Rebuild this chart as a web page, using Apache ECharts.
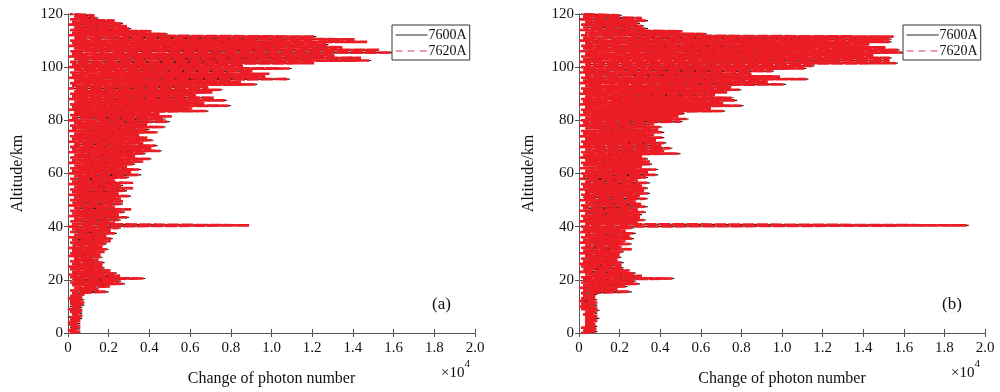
<!DOCTYPE html>
<html><head><meta charset="utf-8">
<script src="https://cdn.jsdelivr.net/npm/echarts@6/dist/echarts.min.js"></script>
<style>html,body{margin:0;padding:0;background:#fff;}#c{width:1000px;height:392px;}</style>
</head><body><div id="c"></div>
<script>
// Altitude grid (km), shared by both panels
const altitude = [
0,0.5,1,1.5,2,2.5,3,3.5,4,4.5,5,5.5,6,6.5,7,7.5,8,8.5,9,9.5,
10,10.5,11,11.5,12,12.5,13,13.5,14,14.5,15,15.5,16,16.5,17,17.5,18,18.5,19,19.5,
20,20.5,21,21.5,22,22.5,23,23.5,24,24.5,25,25.5,26,26.5,27,27.5,28,28.5,29,29.5,
30,30.5,31,31.5,32,32.5,33,33.5,34,34.5,35,35.5,36,36.5,37,37.5,38,38.5,39,39.5,
40,40.5,41,41.5,42,42.5,43,43.5,44,44.5,45,45.5,46,46.5,47,47.5,48,48.5,49,49.5,
50,50.5,51,51.5,52,52.5,53,53.5,54,54.5,55,55.5,56,56.5,57,57.5,58,58.5,59,59.5,
60,60.5,61,61.5,62,62.5,63,63.5,64,64.5,65,65.5,66,66.5,67,67.5,68,68.5,69,69.5,
70,70.5,71,71.5,72,72.5,73,73.5,74,74.5,75,75.5,76,76.5,77,77.5,78,78.5,79,79.5,
80,80.5,81,81.5,82,82.5,83,83.5,84,84.5,85,85.5,86,86.5,87,87.5,88,88.5,89,89.5,
90,90.5,91,91.5,92,92.5,93,93.5,94,94.5,95,95.5,96,96.5,97,97.5,98,98.5,99,99.5,
100,100.5,101,101.5,102,102.5,103,103.5,104,104.5,105,105.5,106,106.5,107,107.5,108,108.5,109,109.5,
110,110.5,111,111.5,112,112.5,113,113.5,114,114.5,115,115.5,116,116.5,117,117.5,118,118.5,119,119.5,
120];

// Change of photon number (x 10^4), panel (a)
const a7600 = [
0.01,0.05,0.00,0.06,0.01,0.05,0.00,0.06,0.01,0.05,
0.01,0.07,0.00,0.06,0.02,0.07,0.01,0.06,0.00,0.07,
0.01,0.08,0.02,0.07,0.01,0.08,0.00,0.06,0.01,0.08,
0.02,0.20,0.01,0.14,0.03,0.20,0.02,0.28,0.01,0.26,
0.02,0.38,0.01,0.25,0.00,0.24,0.02,0.20,0.01,0.18,
0.00,0.16,0.02,0.18,0.01,0.14,0.03,0.17,0.00,0.15,
0.01,0.17,0.02,0.20,0.00,0.16,0.02,0.19,0.01,0.20,
0.02,0.22,0.00,0.18,0.03,0.24,0.01,0.20,0.02,0.26,
0.00,0.88,0.02,0.22,0.01,0.26,0.03,0.30,0.00,0.24,
0.02,0.28,0.01,0.30,0.03,0.22,0.00,0.27,0.02,0.26,
0.01,0.25,0.03,0.31,0.00,0.24,0.02,0.29,0.01,0.31,
0.03,0.27,0.00,0.31,0.02,0.22,0.01,0.30,0.03,0.36,
0.00,0.30,0.02,0.36,0.01,0.28,0.03,0.33,0.00,0.36,
0.02,0.41,0.01,0.32,0.03,0.38,0.00,0.46,0.02,0.40,
0.01,0.44,0.03,0.36,0.00,0.42,0.02,0.38,0.01,0.34,
0.03,0.43,0.00,0.40,0.02,0.48,0.01,0.38,0.03,0.50,
0.00,0.48,0.02,0.50,0.01,0.44,0.03,0.69,0.00,0.60,
0.02,0.80,0.01,0.66,0.03,0.78,0.00,0.71,0.02,0.62,
0.01,0.70,0.03,0.76,0.00,0.68,0.02,0.93,0.01,0.84,
0.03,1.09,0.00,0.96,0.02,0.98,0.01,0.90,0.03,1.10,
0.00,0.85,0.02,1.20,0.01,1.49,0.03,1.43,0.00,1.30,
0.02,1.60,0.01,1.52,0.03,1.34,0.00,1.28,0.02,1.46,
0.01,1.40,0.03,1.22,0.00,0.49,0.02,0.40,0.01,0.31,
0.03,0.28,0.00,0.27,0.02,0.22,0.01,0.15,0.03,0.12,
0.01];
const a7620 = [
0.01,0.06,0.00,0.05,0.01,0.06,0.01,0.05,0.00,0.06,
0.01,0.06,0.01,0.07,0.02,0.06,0.01,0.07,0.00,0.06,
0.02,0.07,0.01,0.08,0.01,0.07,0.00,0.07,0.01,0.08,
0.02,0.19,0.01,0.15,0.03,0.21,0.02,0.27,0.01,0.25,
0.02,0.37,0.01,0.26,0.00,0.23,0.02,0.21,0.01,0.17,
0.00,0.17,0.02,0.17,0.01,0.15,0.03,0.16,0.00,0.16,
0.01,0.18,0.02,0.19,0.00,0.17,0.02,0.18,0.01,0.21,
0.02,0.21,0.00,0.19,0.03,0.23,0.01,0.21,0.02,0.25,
0.00,0.89,0.02,0.23,0.01,0.25,0.03,0.29,0.00,0.25,
0.02,0.27,0.01,0.31,0.03,0.23,0.00,0.26,0.02,0.27,
0.01,0.26,0.03,0.30,0.00,0.25,0.02,0.28,0.01,0.32,
0.03,0.26,0.00,0.32,0.02,0.23,0.01,0.29,0.03,0.35,
0.00,0.31,0.02,0.35,0.01,0.29,0.03,0.32,0.00,0.37,
0.02,0.40,0.01,0.33,0.03,0.37,0.00,0.45,0.02,0.41,
0.01,0.43,0.03,0.37,0.00,0.41,0.02,0.39,0.01,0.35,
0.03,0.44,0.00,0.39,0.02,0.47,0.01,0.39,0.03,0.49,
0.00,0.47,0.02,0.51,0.01,0.45,0.03,0.68,0.00,0.61,
0.02,0.79,0.01,0.67,0.03,0.77,0.00,0.72,0.02,0.63,
0.01,0.71,0.03,0.75,0.00,0.69,0.02,0.92,0.01,0.85,
0.03,1.08,0.00,0.97,0.02,0.99,0.01,0.91,0.03,1.09,
0.00,0.86,0.02,1.21,0.01,1.48,0.03,1.44,0.00,1.31,
0.02,1.59,0.01,1.53,0.03,1.35,0.00,1.27,0.02,1.47,
0.01,1.41,0.03,1.21,0.00,0.48,0.02,0.41,0.01,0.30,
0.03,0.29,0.00,0.26,0.02,0.23,0.01,0.14,0.03,0.13,
0.01];

// panel (b)
const b7600 = [
0.01,0.09,0.02,0.08,0.01,0.09,0.03,0.07,0.03,0.08,
0.03,0.10,0.03,0.08,0.02,0.09,0.03,0.10,0.01,0.08,
0.00,0.09,0.01,0.08,0.00,0.09,0.01,0.07,0.02,0.09,
0.01,0.26,0.02,0.18,0.00,0.24,0.02,0.30,0.01,0.28,
0.02,0.47,0.01,0.30,0.03,0.28,0.00,0.24,0.02,0.22,
0.01,0.20,0.00,0.22,0.02,0.18,0.01,0.21,0.03,0.19,
0.00,0.22,0.02,0.25,0.01,0.20,0.03,0.26,0.00,0.22,
0.02,0.27,0.01,0.24,0.03,0.28,0.00,0.22,0.02,0.27,
0.01,1.92,0.03,0.28,0.00,0.33,0.02,0.29,0.01,0.31,
0.03,0.33,0.00,0.28,0.02,0.34,0.01,0.30,0.03,0.27,
0.00,0.34,0.02,0.29,0.01,0.35,0.03,0.31,0.00,0.34,
0.02,0.30,0.01,0.35,0.03,0.28,0.00,0.34,0.02,0.39,
0.01,0.33,0.03,0.39,0.00,0.30,0.02,0.36,0.01,0.34,
0.03,0.34,0.00,0.30,0.02,0.50,0.01,0.41,0.03,0.46,
0.00,0.40,0.02,0.43,0.01,0.37,0.03,0.42,0.00,0.36,
0.02,0.42,0.01,0.38,0.03,0.41,0.00,0.36,0.02,0.51,
0.01,0.54,0.03,0.48,0.00,0.52,0.02,0.72,0.01,0.64,
0.03,0.81,0.00,0.70,0.02,0.78,0.01,0.76,0.03,0.66,
0.00,0.72,0.02,0.80,0.01,0.74,0.03,1.02,0.00,0.92,
0.02,1.13,0.01,0.98,0.03,0.84,0.00,0.96,0.02,1.12,
0.01,1.16,0.03,1.57,0.00,1.52,0.02,1.54,0.01,1.44,
0.03,1.60,0.00,1.58,0.02,1.50,0.01,1.42,0.03,1.54,
0.00,1.54,0.02,1.54,0.01,0.63,0.03,0.50,0.00,0.34,
0.02,0.32,0.01,0.30,0.03,0.34,0.00,0.30,0.02,0.21,
0.01];
const b7620 = [
0.01,0.08,0.02,0.09,0.01,0.08,0.03,0.08,0.03,0.09,
0.03,0.09,0.03,0.09,0.02,0.08,0.03,0.09,0.01,0.09,
0.00,0.08,0.01,0.09,0.00,0.08,0.01,0.08,0.02,0.08,
0.01,0.25,0.02,0.19,0.00,0.23,0.02,0.29,0.01,0.27,
0.02,0.46,0.01,0.31,0.03,0.27,0.00,0.25,0.02,0.21,
0.01,0.21,0.00,0.21,0.02,0.19,0.01,0.20,0.03,0.20,
0.00,0.21,0.02,0.26,0.01,0.21,0.03,0.25,0.00,0.23,
0.02,0.26,0.01,0.25,0.03,0.27,0.00,0.23,0.02,0.26,
0.01,1.91,0.03,0.29,0.00,0.32,0.02,0.30,0.01,0.30,
0.03,0.32,0.00,0.29,0.02,0.33,0.01,0.31,0.03,0.28,
0.00,0.33,0.02,0.30,0.01,0.34,0.03,0.32,0.00,0.33,
0.02,0.31,0.01,0.34,0.03,0.29,0.00,0.33,0.02,0.38,
0.01,0.34,0.03,0.38,0.00,0.31,0.02,0.35,0.01,0.35,
0.03,0.33,0.00,0.31,0.02,0.49,0.01,0.42,0.03,0.45,
0.00,0.41,0.02,0.42,0.01,0.38,0.03,0.41,0.00,0.37,
0.02,0.41,0.01,0.39,0.03,0.40,0.00,0.37,0.02,0.50,
0.01,0.53,0.03,0.49,0.00,0.51,0.02,0.71,0.01,0.65,
0.03,0.80,0.00,0.71,0.02,0.77,0.01,0.75,0.03,0.67,
0.00,0.73,0.02,0.79,0.01,0.75,0.03,1.01,0.00,0.93,
0.02,1.12,0.01,0.99,0.03,0.85,0.00,0.95,0.02,1.11,
0.01,1.15,0.03,1.56,0.00,1.53,0.02,1.53,0.01,1.45,
0.03,1.59,0.00,1.57,0.02,1.51,0.01,1.43,0.03,1.53,
0.00,1.53,0.02,1.55,0.01,0.62,0.03,0.51,0.00,0.33,
0.02,0.31,0.01,0.29,0.03,0.33,0.00,0.31,0.02,0.20,
0.01];

const xTicks = [0,0.2,0.4,0.6,0.8,1.0,1.2,1.4,1.6,1.8,2.0];
const yTicks = [0,20,40,60,80,100,120];
const seriesNames = ['7600A','7620A'];
const panelLabels = ['(a)','(b)'];

const FONT = "'Liberation Serif','Times New Roman',serif";
const AX = '#555';
const RED = '#ec1c24';

function pairs(vals){ return vals.map((v,i)=>[v, altitude[i]]); }

const grids = [
  {left:68, top:14, width:407, height:319},
  {left:579, top:14, width:406, height:319}
];

const xAxis = [], yAxis = [], series = [], legends = [], graphics = [];
grids.forEach((g, gi) => {
  xAxis.push({
    gridIndex: gi, type:'value', min:xTicks[0], max:xTicks[xTicks.length-1], interval:0.2,
    position:'bottom',
    axisLine:{show:true, lineStyle:{color:AX, width:1}},
    axisTick:{show:true, inside:true, length:4, lineStyle:{color:AX}},
    splitLine:{show:false},
    axisLabel:{color:'#111', fontFamily:FONT, fontSize:15, margin:8,
      formatter:v => v===0 ? '0' : v.toFixed(1)},
    name:'Change of photon number', nameLocation:'middle', nameGap:38,
    nameTextStyle:{color:'#111', fontFamily:FONT, fontSize:16}
  });
  xAxis.push({
    gridIndex: gi, type:'value', min:0, max:2, interval:0.2, position:'top',
    axisLine:{show:true, lineStyle:{color:AX, width:1}},
    axisTick:{show:true, inside:true, length:4, lineStyle:{color:AX}},
    axisLabel:{show:false}, splitLine:{show:false}
  });
  yAxis.push({
    gridIndex: gi, type:'value', min:yTicks[0], max:yTicks[yTicks.length-1], interval:20,
    position:'left',
    axisLine:{show:true, lineStyle:{color:AX, width:1}},
    axisTick:{show:true, inside:true, length:4, lineStyle:{color:AX}},
    splitLine:{show:false},
    axisLabel:{color:'#111', fontFamily:FONT, fontSize:15, margin:5},
    name:'Altitude/km', nameLocation:'middle', nameGap:42, nameRotate:90,
    nameTextStyle:{color:'#111', fontFamily:FONT, fontSize:16}
  });
  yAxis.push({
    gridIndex: gi, type:'value', min:0, max:120, interval:20, position:'right',
    axisLine:{show:true, lineStyle:{color:AX, width:1}},
    axisTick:{show:true, inside:true, length:4, lineStyle:{color:AX}},
    axisLabel:{show:false}, splitLine:{show:false}
  });
  const d1 = gi===0 ? a7600 : b7600;
  const d2 = gi===0 ? a7620 : b7620;
  series.push({
    name:seriesNames[0], type:'line', xAxisIndex:gi*2, yAxisIndex:gi*2,
    data:pairs(d1), symbol:'none', showSymbol:false, animation:false,
    lineStyle:{color:'#222', width:1.2, type:'solid'}, itemStyle:{color:'#222'}, z:2
  });
  series.push({
    name:seriesNames[1], type:'line', xAxisIndex:gi*2, yAxisIndex:gi*2,
    data:pairs(d2), symbol:'none', showSymbol:false, animation:false,
    lineStyle:{color:RED, width:2.6, type:[12,2]}, itemStyle:{color:RED}, z:3
  });
  legends.push({
    data:[
      {name:seriesNames[0], lineStyle:{color:'#222', width:1.2, type:'solid'}},
      {name:seriesNames[1], lineStyle:{color:'#d23a55', width:1.2, type:[7,5]}}
    ],
    orient:'vertical', left:g.left+324, top:25,
    backgroundColor:'#fff', borderColor:'#333', borderWidth:1,
    padding:[3,3,2,3], itemGap:2, itemWidth:32, itemHeight:12,
    itemStyle:{opacity:0},
    textStyle:{fontFamily:FONT, fontSize:14, color:'#111', padding:[0,0,0,-4]},
    selectedMode:false, z:10
  });
  graphics.push({
    type:'text', left:g.left+g.width-43, top:296, z:20,
    style:{text:panelLabels[gi], font:'17px '+FONT, fill:'#111'}
  });
  graphics.push({
    type:'text', left:g.left+g.width-34, top:359, z:20,
    style:{text:'{a|×10}{b|4}', fill:'#111',
      rich:{a:{fontFamily:FONT, fontSize:15, padding:[7,0,0,0]}, b:{fontFamily:FONT, fontSize:11, verticalAlign:'top', padding:[0,0,7,0]}}}
  });
});

const chart = echarts.init(document.getElementById('c'), null, {renderer:'canvas'});
chart.setOption({
  animation:false,
  backgroundColor:'#fff',
  grid:grids, xAxis, yAxis, series, legend:legends, graphic:graphics
});
</script>
</body></html>
